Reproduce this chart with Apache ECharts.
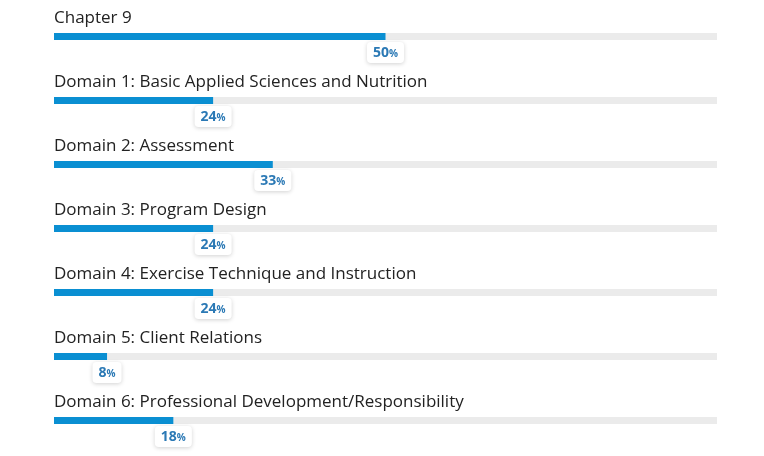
<!DOCTYPE html>
<html><head><meta charset="utf-8">
<script src="https://cdn.jsdelivr.net/npm/echarts@6/dist/echarts.min.js"></script>
<style>html,body{margin:0;background:#fff}#c{width:764px;height:456px}</style>
</head><body><div id="c"></div>
<script>
const categories = ['Chapter 9', 'Domain 1: Basic Applied Sciences and Nutrition', 'Domain 2: Assessment',
  'Domain 3: Program Design', 'Domain 4: Exercise Technique and Instruction', 'Domain 5: Client Relations',
  'Domain 6: Professional Development/Responsibility'];
const scores = [50, 24, 33, 24, 24, 8, 18];
const track = categories.map(() => 100);

const chart = echarts.init(document.getElementById('c'));
chart.setOption({
  animation: false,
  grid: { left: 54, right: 47, top: 4.5, bottom: 3.5 },
  xAxis: { type: 'value', min: 0, max: 100, show: false },
  yAxis: { type: 'category', data: categories, inverse: true, show: false },
  series: [{
    type: 'bar', data: track, barWidth: 7, barGap: '-100%', silent: true,
    itemStyle: { color: '#ebebeb' },
    label: {
      show: true, position: 'insideLeft', distance: 0, offset: [0, -18],
      formatter: p => p.name, color: '#222', fontSize: 17, fontFamily: 'Open Sans'
    }
  }, {
    type: 'bar', data: scores, barWidth: 7, z: 3,
    itemStyle: { color: '#0a8fd2' },
    label: {
      show: true, position: ['100%', '100%'], align: 'center', verticalAlign: 'top', offset: [0, 2],
      formatter: p => '{v|' + p.value + '}{p|%}',
      backgroundColor: '#fff', borderRadius: 4, padding: [4, 6, 3, 6],
      shadowColor: 'rgba(0,0,0,0.18)', shadowBlur: 4, shadowOffsetY: 1,
      rich: {
        v: { color: '#2b79b5', fontSize: 14, fontWeight: 'bold', fontFamily: 'Open Sans' },
        p: { color: '#2b79b5', fontSize: 10, fontWeight: 'bold', fontFamily: 'Open Sans', padding: [3, 0, 0, 0] }
      }
    }
  }]
});
</script></body></html>
